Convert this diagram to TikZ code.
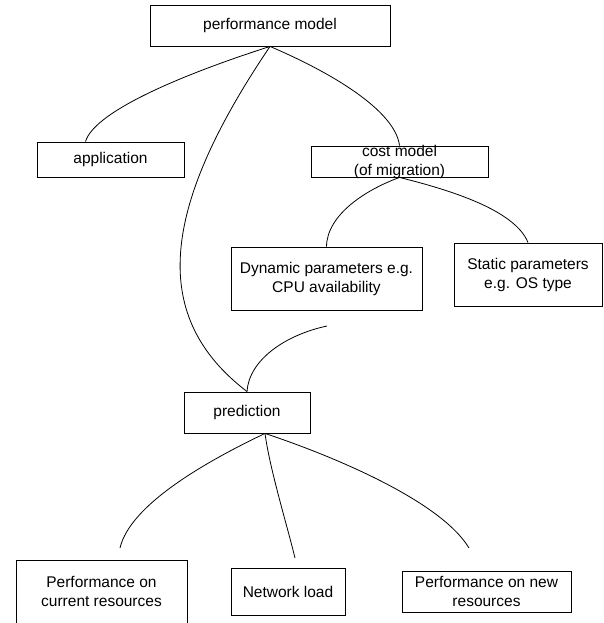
\documentclass[tikz,border=0pt]{standalone}
\usepackage{fontspec}
\setmainfont{Liberation Sans}
\usetikzlibrary{positioning}

\begin{document}
\begin{tikzpicture}[x=1pt,y=-1pt,
    box/.style={draw,line width=0.9pt,inner sep=0pt,align=center,
                font=\fontsize{15.5}{19}\selectfont},
    link/.style={line width=0.8pt}]
        \useasboundingbox (0,0) rectangle (603,623);
        % boxes
        \node[box,minimum width=240pt,minimum height=41pt](perf)at(270,25.5){performance model};
        \node[box,minimum width=147pt,minimum height=35pt](app)at(110.5,159.5){application};
        \node[box,minimum width=177pt,minimum height=31pt](cost)at(399.5,161.5){};
        \node[align=center,inner sep=0pt,font=\fontsize{15.5}{19}\selectfont](costtext)at(cost){cost model\\(of migration)};
        \node[box,minimum width=191pt,minimum height=63pt](dyn)at(326.5,278.5){Dynamic parameters e.g.\\CPU availability};
        \node[box,minimum width=148pt,minimum height=63pt](stat)at(528,274.5){Static parameters\\e.g. OS type};
        \node[box,minimum width=126pt,minimum height=41pt](pred)at(247,412.5){prediction};
        \node[box,minimum width=171pt,minimum height=72pt](cur)at(101.5,596){};
        \node[align=center,inner sep=0pt,font=\fontsize{15.5}{19}\selectfont](curtext)at(101.5,591.5){Performance on\\current resources};
        \node[box,minimum width=114pt,minimum height=47pt](net)at(288,591.5){Network load};
        \node[box,minimum width=169pt,minimum height=41pt](new)at(486.5,591.5){Performance on new\\resources};
        % loose ends
        \coordinate(dynend)at(327,326);
        \coordinate(curend)at(120,548);
        \coordinate(netend)at(295,558);
        \coordinate(newend)at(469,548);
        % links
        \draw[link](perf.south)..controls(190,72)and(95,110)..([xshift=-25pt]app.north);
        \draw[link](perf.south)..controls(330,72)and(395,110)..(cost.north);
        \draw[link](perf.south)..controls(158,212)and(151,318)..(pred.north);
        \draw[link](cost.south)..controls(365,190)and(327,215)..(dyn.north);
        \draw[link](cost.south)..controls(450,190)and(515,210)..(stat.north);
        \draw[link](pred.north)..controls(249,360)and(285,335)..(dynend);
        \draw[link]([xshift=18pt]pred.south)..controls(205,462)and(130,505)..(curend);
        \draw[link]([xshift=18pt]pred.south)..controls(270,470)and(287,525)..(netend);
        \draw[link]([xshift=18pt]pred.south)..controls(330,455)and(440,500)..(newend);
\end{tikzpicture}
\end{document}
